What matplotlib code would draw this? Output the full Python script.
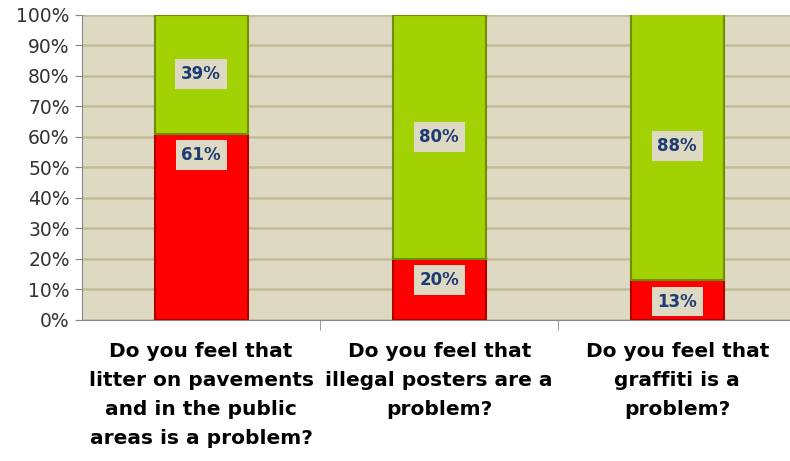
import numpy as np
import matplotlib.pyplot as plt

questions = [
    "Do you feel that\nlitter on pavements\nand in the public\nareas is a problem?",
    "Do you feel that\nillegal posters are a\nproblem?",
    "Do you feel that\ngraffiti is a\nproblem?",
]
yes_pct = [61, 20, 13]
no_pct = [39, 80, 88]

bg = "#ddd9c3"
red = "#ff0000"
green = "#a2d203"
label_blue = "#1f3b73"

fig = plt.figure(figsize=(7.9, 4.61), dpi=100)
ax = fig.add_axes([0.104, 0.306, 0.904, 0.662])
ax.set_facecolor(bg)

x = np.arange(len(questions))
width = 0.39

ax.bar(x, yes_pct, width, color=red, edgecolor="#b00000", linewidth=1.5, zorder=3)
ax.bar(x, no_pct, width, bottom=yes_pct, color=green, edgecolor="#6f8f00",
       linewidth=1.5, zorder=3)

box = dict(boxstyle="square,pad=0.35", facecolor=bg, edgecolor="none")
for xi, y, n in zip(x, yes_pct, no_pct):
    ax.text(xi, y - 7, f"{y}%", ha="center", va="center", fontsize=12,
            fontweight="heavy", color=label_blue, bbox=box, zorder=4)
    ax.text(xi, y + n / 2, f"{n}%", ha="center", va="center", fontsize=12,
            fontweight="heavy", color=label_blue, bbox=box, zorder=4)

ax.set_xlim(-0.5, len(questions) - 0.5)
ax.set_ylim(0, 100)
ax.set_yticks(np.arange(0, 101, 10))
ax.set_yticklabels([f"{v}%" for v in range(0, 101, 10)], fontsize=13.5, color="#333333")
ax.yaxis.grid(True, color="#c4bd97", linewidth=1.8, zorder=0)

ax.set_xticks(x)
ax.set_xticklabels(questions, fontsize=14.5, fontweight="bold", linespacing=1.66)
ax.tick_params(axis="x", length=0, pad=16)
ax.set_xticks([0.5, 1.5], minor=True)
ax.tick_params(axis="x", which="minor", length=7, color="#888888")
ax.tick_params(axis="y", length=5, color="#888888", pad=4)

for side in ["top", "right"]:
    ax.spines[side].set_visible(False)
for side in ["left", "bottom"]:
    ax.spines[side].set_color("#888888")

fig.savefig("out.png", dpi=100)
